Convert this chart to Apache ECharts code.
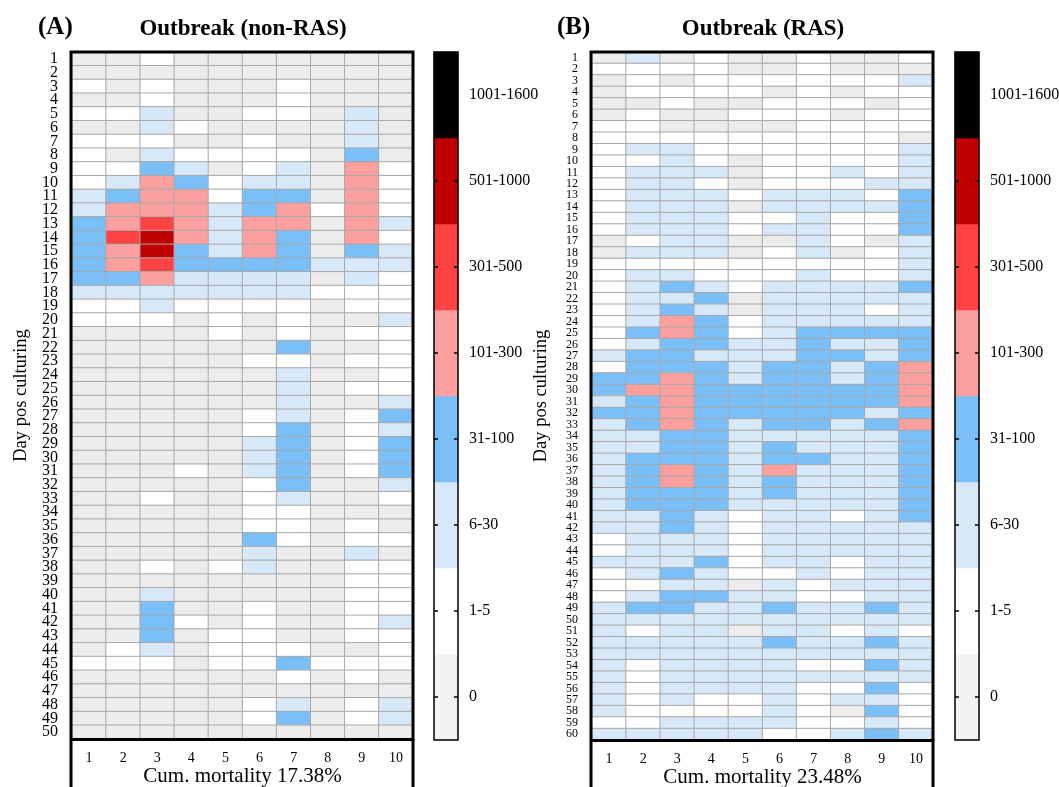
<!DOCTYPE html>
<html><head><meta charset="utf-8">
<script src="https://cdn.jsdelivr.net/npm/echarts@6/dist/echarts.min.js"></script>
<style>html,body{margin:0;padding:0;background:#fff}#c{width:1059px;height:787px}</style>
</head><body><div id="c"></div>
<script>
const columns = ['1','2','3','4','5','6','7','8','9','10'];
const classLabels = ['0','1-5','6-30','31-100','101-300','301-500','501-1000','1001-1600'];
const classColors = ['#ececec','#ffffff','#d7e9f8','#7bbff9','#fb9f9f','#ff4242','#c00000','#000000'];
const legendColors = ['#f2f2f2','#ffffff','#d7e9f8','#7bbff9','#fb9f9f','#ff4242','#c00000','#000000'];
const titleA = 'Outbreak (non-RAS)';
const titleB = 'Outbreak (RAS)';
const mortalityA = 'Cum. mortality 17.38%';
const mortalityB = 'Cum. mortality 23.48%';

// class index per cell (0 = "0", 1 = "1-5", 2 = "6-30", 3 = "31-100", 4 = "101-300", 5 = "301-500", 6 = "501-1000")
const rowsA = [
[0,0,1,0,0,0,0,0,0,0],
[0,0,0,0,0,0,0,0,0,0],
[1,0,1,0,0,0,1,0,0,0],
[0,0,1,0,0,0,1,0,0,0],
[1,1,2,0,0,1,1,0,2,0],
[0,0,2,1,0,0,0,0,2,0],
[1,1,1,0,0,1,0,0,2,0],
[1,0,2,1,1,1,1,0,3,0],
[1,1,3,2,0,1,2,0,4,1],
[1,2,4,3,1,2,2,0,4,1],
[2,3,4,4,1,3,3,0,4,1],
[2,4,4,4,2,3,4,1,4,1],
[3,4,5,4,2,4,4,0,4,2],
[3,5,6,4,2,4,3,0,4,1],
[3,4,6,3,2,4,3,0,3,2],
[3,4,5,3,3,3,3,2,2,2],
[3,3,4,2,2,2,2,0,2,1],
[2,2,2,2,2,2,2,1,1,1],
[1,1,2,1,1,1,1,0,1,1],
[1,1,1,0,1,0,1,0,0,2],
[0,0,0,0,1,0,1,0,1,1],
[0,0,0,0,0,0,3,0,0,1],
[0,0,0,0,0,1,1,0,1,1],
[0,0,0,0,0,0,2,0,0,1],
[0,0,0,0,0,0,2,0,1,1],
[0,0,0,0,0,0,2,0,0,2],
[0,0,0,0,0,1,2,0,1,3],
[0,0,0,0,0,1,3,0,1,2],
[0,0,0,0,0,2,3,0,1,3],
[0,0,0,0,0,2,3,0,1,3],
[0,0,0,1,0,2,3,0,1,3],
[0,0,0,0,0,1,3,0,0,2],
[0,0,1,0,0,1,2,0,0,1],
[0,0,0,0,0,1,1,0,0,0],
[0,0,0,0,0,1,1,0,1,0],
[0,0,0,0,0,3,1,0,1,1],
[0,0,0,0,0,2,0,0,2,0],
[0,0,1,0,1,2,0,0,1,1],
[0,0,0,0,0,0,0,0,1,1],
[0,0,2,0,0,0,0,0,1,1],
[0,0,3,0,0,1,0,0,1,1],
[0,0,3,1,0,1,0,0,1,2],
[0,0,3,0,1,1,0,0,1,1],
[0,1,2,0,1,1,1,0,0,1],
[1,1,1,0,1,1,3,1,1,1],
[0,0,0,0,0,0,1,0,1,0],
[0,0,0,0,0,0,0,0,0,0],
[0,0,0,0,0,1,2,0,1,2],
[0,0,0,0,0,1,3,0,1,2],
[0,0,0,0,0,0,0,0,0,0]
];
const rowsB = [
[0,2,0,1,0,0,1,0,0,1],
[1,1,1,1,0,0,1,0,0,0],
[0,1,0,1,1,1,1,1,1,2],
[0,1,1,1,1,0,1,0,1,1],
[0,0,1,0,0,1,1,1,0,1],
[0,1,0,0,1,1,1,0,1,1],
[1,1,0,0,0,0,1,1,1,1],
[1,1,1,1,1,1,1,1,1,0],
[1,2,2,1,1,1,1,1,1,2],
[1,1,2,1,0,1,1,1,1,2],
[1,2,2,2,0,1,1,2,1,2],
[1,2,2,1,0,1,1,1,2,2],
[1,2,2,2,1,2,2,2,1,3],
[1,2,2,2,0,2,2,2,2,3],
[1,2,2,2,1,1,2,1,1,3],
[1,2,2,2,1,2,2,1,1,3],
[0,1,2,2,0,0,2,1,0,2],
[0,2,2,2,0,1,2,0,1,2],
[1,1,1,1,1,1,1,1,1,2],
[1,2,2,1,1,1,2,1,1,2],
[1,2,3,2,1,2,2,2,2,3],
[1,2,2,3,0,2,2,2,2,2],
[1,2,3,2,0,2,2,2,1,2],
[1,2,4,3,1,2,2,2,2,2],
[1,3,4,3,1,2,3,3,3,3],
[1,2,3,3,2,2,3,2,2,3],
[2,3,3,2,2,2,3,3,2,3],
[1,3,3,3,2,3,3,2,3,4],
[3,3,4,3,2,3,3,2,3,4],
[3,4,4,3,3,3,3,3,3,4],
[2,3,4,3,3,3,3,3,3,4],
[3,3,4,3,3,3,3,3,2,3],
[2,3,4,3,2,3,3,2,3,4],
[2,2,3,3,2,2,2,2,2,3],
[2,2,3,3,2,3,2,2,2,3],
[2,3,3,3,2,3,3,2,2,3],
[2,3,4,3,2,4,2,2,2,3],
[2,3,4,3,2,3,2,2,2,3],
[2,3,3,3,2,3,2,2,2,3],
[2,3,3,3,2,2,2,2,2,3],
[2,2,3,2,1,2,2,1,2,3],
[2,2,3,2,1,2,2,2,2,2],
[1,2,2,2,1,2,2,2,2,2],
[1,2,2,2,1,2,2,2,2,2],
[2,2,2,3,1,2,2,1,2,2],
[1,2,3,2,1,1,2,1,2,2],
[1,1,2,2,0,2,1,2,2,2],
[1,2,3,3,2,2,1,1,2,2],
[2,3,3,2,2,3,2,2,3,2],
[2,2,2,2,2,2,2,2,2,2],
[2,1,2,2,0,2,2,1,2,1],
[2,2,2,2,2,3,2,2,3,2],
[2,2,2,2,2,2,2,2,2,2],
[2,1,2,2,2,2,1,1,3,2],
[2,1,2,2,2,2,2,2,2,2],
[2,1,2,2,2,2,1,1,3,1],
[2,1,2,1,1,2,1,2,2,1],
[2,1,1,1,1,2,1,0,3,1],
[1,1,2,2,2,2,1,1,2,1],
[2,2,2,2,2,1,1,2,3,2]
];

const daysA = rowsA.map((_, i) => String(i + 1));
const daysB = rowsB.map((_, i) => String(i + 1));
function cells(rows){ const out=[]; rows.forEach((r,ri)=>r.forEach((v,ci)=>out.push([ci,ri,v]))); return out; }
function legendCells(){ return classLabels.map((_,i)=>({value:[0,i,i], itemStyle:{color:legendColors[i]}})); }

const FONT = 'Liberation Serif';
const chart = echarts.init(document.getElementById('c'), null, {renderer:'canvas'});

function heatX(gi, name){
  return {gridIndex:gi, type:'category', data:columns, position:'bottom', z:5,
    axisLine:{show:true, lineStyle:{color:'#000', width:3}}, axisTick:{show:false},
    splitLine:{show:false},
    axisLabel:{fontFamily:FONT, fontSize:14, color:'#000', margin:12},
    name:name, nameLocation:'middle', nameGap:27, nameMoveOverlap:false,
    nameTextStyle:{fontFamily:FONT, fontSize:21, color:'#000'}};
}
function heatY(gi, days, fs){
  return {gridIndex:gi, type:'category', data:days, inverse:true,
    axisLine:{show:false}, axisTick:{show:false}, splitLine:{show:false},
    axisLabel:{interval:0, fontFamily:FONT, fontSize:fs, color:'#000', margin:14, lineHeight:fs},
    name:'Day pos culturing', nameLocation:'middle', nameGap:41, nameMoveOverlap:false,
    nameTextStyle:{fontFamily:FONT, fontSize:18.5, color:'#000'}};
}
function cbX(gi){ return {gridIndex:gi, type:'category', data:['c'], show:false}; }
function cbY(gi, side){
  return {gridIndex:gi, type:'category', data:classLabels, position:side, z:10,
    axisLine:{show:false}, splitLine:{show:false},
    axisTick:{show:true, inside:true, length:4, alignWithLabel:true, lineStyle:{color:'#000', width:1.5}},
    axisLabel:{show: side === 'right', fontFamily:FONT, fontSize:16, color:'#000', margin:11}};
}
const cellStyle = {borderColor:'#a8a8a8', borderWidth:1};
const gridBase = {outerBoundsMode:'none', containLabel:false};

const option = {
  backgroundColor:'#fff',
  animation:false,
  grid:[
    Object.assign({left:72, top:52, width:341, height:687}, gridBase),
    Object.assign({left:592, top:52, width:341, height:688}, gridBase),
    Object.assign({left:434, top:52, width:24, height:688}, gridBase),
    Object.assign({left:955, top:52, width:24, height:688}, gridBase)
  ],
  xAxis:[heatX(0, mortalityA), heatX(1, mortalityB), cbX(2), cbX(3)],
  yAxis:[heatY(0, daysA, 16), heatY(1, daysB, 12), cbY(2,'right'), cbY(3,'right'), cbY(2,'left'), cbY(3,'left')],
  visualMap:[{type:'piecewise', show:false, dimension:2, seriesIndex:[0,1],
    pieces: classColors.map((c,i)=>({value:i, color:c}))}],
  series:[
    {type:'heatmap', xAxisIndex:0, yAxisIndex:0, data:cells(rowsA), itemStyle:cellStyle},
    {type:'heatmap', xAxisIndex:1, yAxisIndex:1, data:cells(rowsB), itemStyle:cellStyle},
    {type:'heatmap', xAxisIndex:2, yAxisIndex:2, data:legendCells()},
    {type:'heatmap', xAxisIndex:3, yAxisIndex:3, data:legendCells()}
  ],
  graphic:[
    {type:'rect', z:100, shape:{x:71, y:52, width:342, height:760}, style:{fill:null, stroke:'#000', lineWidth:3}},
    {type:'rect', z:100, shape:{x:591, y:52, width:342, height:760}, style:{fill:null, stroke:'#000', lineWidth:3}},
    {type:'rect', z:100, shape:{x:434, y:52, width:24, height:688}, style:{fill:null, stroke:'#000', lineWidth:1.5}},
    {type:'rect', z:100, shape:{x:955, y:52, width:24, height:688}, style:{fill:null, stroke:'#000', lineWidth:1.5}},
    {type:'text', x:38, y:28, style:{text:'(A)', font:'bold 25px "Liberation Serif"', fill:'#000', textVerticalAlign:'middle'}},
    {type:'text', x:243, y:29, style:{text:titleA, font:'bold 23px "Liberation Serif"', fill:'#000', textAlign:'center', textVerticalAlign:'middle'}},
    {type:'text', x:557, y:28, style:{text:'(B)', font:'bold 25px "Liberation Serif"', fill:'#000', textVerticalAlign:'middle'}},
    {type:'text', x:763, y:29, style:{text:titleB, font:'bold 23px "Liberation Serif"', fill:'#000', textAlign:'center', textVerticalAlign:'middle'}}
  ]
};
chart.setOption(option);
</script>
</body></html>
